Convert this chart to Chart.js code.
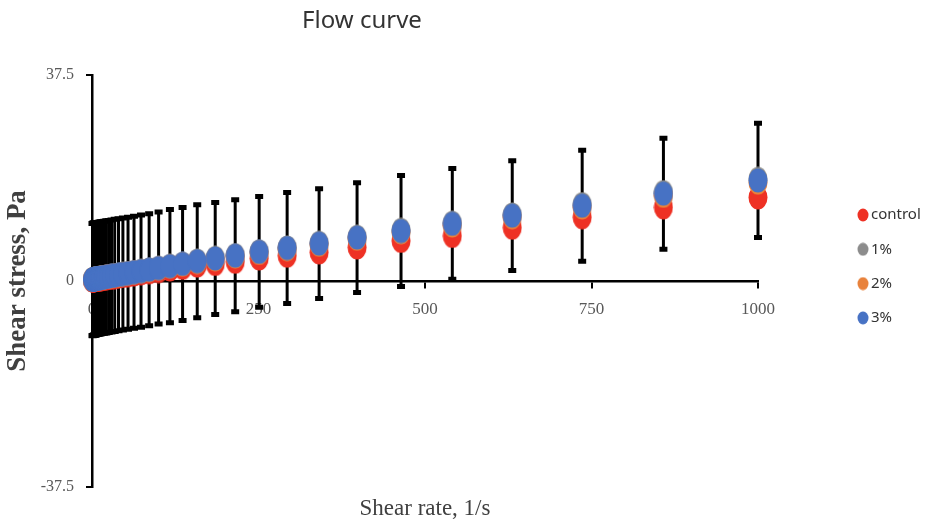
<!DOCTYPE html>
<html>
<head>
<meta charset="utf-8">
<title>Flow curve</title>
<script src="https://cdn.jsdelivr.net/npm/chart.js@4.4.1/dist/chart.umd.min.js"></script>
<style>
  html, body { margin: 0; padding: 0; background: #fff; }
  canvas { display: block; }
</style>
</head>
<body>
<canvas id="flowCurve" width="928" height="529"></canvas>
<script>
// Shear rate steps (1/s) of the flow sweep
const shearRate = [
  1, 1.17, 1.36, 1.58, 1.85, 2.15, 2.51, 2.93, 3.41, 3.98,
  4.64, 5.41, 6.31, 7.36, 8.58, 10, 11.7, 13.6, 15.8, 18.5,
  21.5, 25.1, 29.3, 34.1, 39.8, 46.4, 54.1, 63.1, 73.6, 85.8,
  100, 117, 136, 158, 185, 215, 251, 293, 341, 398,
  464, 541, 631, 736, 858, 1000
];

// Shear stress (Pa) per sample
const control = [
  0.12, 0.13, 0.14, 0.15, 0.16, 0.17, 0.18, 0.19, 0.2, 0.21,
  0.22, 0.23, 0.24, 0.25, 0.26, 0.27, 0.3, 0.34, 0.38, 0.43,
  0.48, 0.55, 0.62, 0.7, 0.8, 0.92, 1.05, 1.2, 1.4, 1.6,
  1.8, 2.1, 2.4, 2.8, 3.1, 3.5, 4.1, 4.6, 5.2, 6.1,
  7.3, 8.2, 9.7, 11.6, 13.4, 15.2
];
const onePercent = [
  0.27, 0.28, 0.29, 0.3, 0.31, 0.32, 0.33, 0.35, 0.36, 0.38,
  0.4, 0.42, 0.44, 0.46, 0.48, 0.51, 0.55, 0.59, 0.64, 0.7,
  0.77, 0.85, 0.94, 1.04, 1.16, 1.3, 1.45, 1.63, 1.84, 2.1,
  2.4, 2.75, 3.15, 3.7, 4.2, 4.7, 5.4, 6.1, 6.95, 8.05,
  9.3, 10.6, 12.1, 14.0, 16.2, 18.6
];
const twoPercent = [
  0.24, 0.25, 0.26, 0.27, 0.28, 0.29, 0.3, 0.31, 0.33, 0.34,
  0.36, 0.38, 0.4, 0.43, 0.46, 0.49, 0.52, 0.56, 0.61, 0.67,
  0.73, 0.8, 0.89, 0.99, 1.09, 1.21, 1.36, 1.53, 1.72, 1.97,
  2.25, 2.6, 2.98, 3.45, 3.95, 4.45, 5.1, 5.8, 6.6, 7.7,
  8.85, 10.1, 11.6, 13.4, 15.5, 17.9
];
const threePercent = [
  0.25, 0.26, 0.27, 0.28, 0.29, 0.3, 0.31, 0.32, 0.34, 0.35,
  0.37, 0.39, 0.41, 0.44, 0.47, 0.5, 0.54, 0.58, 0.63, 0.69,
  0.75, 0.83, 0.92, 1.02, 1.14, 1.27, 1.42, 1.6, 1.8, 2.05,
  2.35, 2.7, 3.1, 3.6, 4.1, 4.6, 5.3, 6.0, 6.8, 7.9,
  9.1, 10.4, 11.9, 13.7, 15.9, 18.3
];
// Standard deviation shown on the 3% series
const threePercentErr = [
  10.2, 10.2, 10.2, 10.2, 10.2, 10.2, 10.2, 10.2, 10.2, 10.2,
  10.2, 10.2, 10.2, 10.2, 10.2, 10.2, 10.2, 10.2, 10.2, 10.2,
  10.2, 10.2, 10.2, 10.2, 10.2, 10.2, 10.2, 10.2, 10.2, 10.2,
  10.2, 10.3, 10.3, 10.3, 10.2, 10.2, 10.1, 10.1, 10.0, 10.0,
  10.1, 10.1, 10.0, 10.1, 10.1, 10.4
];

const seriesNames = ['control', '1%', '2%', '3%'];
const xTicks = [0, 250, 500, 750, 1000];
const yTicks = [-37.5, 0, 37.5];
const chartTitle = 'Flow curve';

const tickGrey = '#595959';

/** Draws an elliptical marker on a small canvas, used as pointStyle */
function makeDot(color, w, h) {
  const c = document.createElement('canvas');
  c.width = w;
  c.height = h;
  const g = c.getContext('2d');
  g.fillStyle = color;
  g.beginPath();
  g.ellipse(w / 2, h / 2, w / 2 - 0.5, h / 2 - 0.5, 0, 0, Math.PI * 2);
  g.fill();
  return c;
}

function series(label, values, color, order, errors) {
  return {
    label: label,
    data: shearRate.map((r, i) => ({x: r, y: values[i]})),
    pointStyle: makeDot(color, 20, 25),
    keyDot: makeDot(color, 12, 14),
    order: order,
    errors: errors,
    clip: false,
    showLine: false
  };
}

/** Vertical error bars with square caps, drawn behind the markers */
const errorBars = {
  id: 'errorBars',
  beforeDatasetsDraw(chart) {
    const {ctx, scales: {x, y}} = chart;
    ctx.save();
    ctx.strokeStyle = '#000';
    chart.data.datasets.forEach(ds => {
      if (!ds.errors) return;
      ds.data.forEach((p, i) => {
        const px = x.getPixelForValue(p.x);
        const top = y.getPixelForValue(p.y + ds.errors[i]);
        const bot = y.getPixelForValue(p.y - ds.errors[i]);
        ctx.lineWidth = 3;
        ctx.beginPath();
        ctx.moveTo(px, top);
        ctx.lineTo(px, bot);
        ctx.stroke();
        // caps
        ctx.lineWidth = 5;
        ctx.beginPath();
        ctx.moveTo(px - 4, top);
        ctx.lineTo(px + 4, top);
        ctx.moveTo(px - 4, bot);
        ctx.lineTo(px + 4, bot);
        ctx.stroke();
      });
    });
    ctx.restore();
  }
};

/** Chart title and the key on the right */
const titleAndKey = {
  id: 'titleAndKey',
  afterDraw(chart) {
    const {ctx, chartArea} = chart;
    ctx.save();
    ctx.fillStyle = '#333';
    ctx.font = '24px "Noto Sans"';
    ctx.textAlign = 'center';
    ctx.textBaseline = 'middle';
    ctx.fillText(chartTitle, 362, 21);

    ctx.font = '15px "Noto Sans"';
    ctx.textAlign = 'left';
    ctx.fillStyle = '#333';
    chart.data.datasets.forEach((ds, i) => {
      const cx = chartArea.right + 105;
      const cy = chartArea.top + 140 + i * 34.3;
      ctx.drawImage(ds.keyDot, cx - 6, cy - 7);
      ctx.fillText(ds.label, cx + 8, cy);
    });
    ctx.restore();
  }
};

const ctx = document.getElementById('flowCurve');
const flowChart = new Chart(ctx, {
  type: 'scatter',
  data: {
    datasets: [
      series(seriesNames[0], control, '#EE3124', 4),
      series(seriesNames[1], onePercent, '#8C8C8C', 3),
      series(seriesNames[2], twoPercent, '#E8823C', 2),
      series(seriesNames[3], threePercent, '#4772C4', 1, threePercentErr)
    ]
  },
  options: {
    responsive: false,
    animation: false,
    events: [],
    layout: {padding: {top: 75, left: 0, right: 0, bottom: 0}},
    plugins: {
      legend: {display: false},
      title: {display: false},
      tooltip: {enabled: false}
    },
    scales: {
      x: {
        type: 'linear',
        position: {y: 0},
        min: 0,
        max: 1000,
        afterBuildTicks: s => { s.ticks = xTicks.map(v => ({value: v})); },
        ticks: {
          callback: v => String(v),
          color: tickGrey,
          padding: 12,
          maxRotation: 0,
          font: {family: 'Liberation Serif', size: 17}
        },
        grid: {drawOnChartArea: false, tickLength: 6, color: '#000', lineWidth: 2},
        border: {color: '#000', width: 2.5}
      },
      y: {
        type: 'linear',
        position: 'left',
        min: -37.5,
        max: 37.5,
        afterBuildTicks: s => { s.ticks = yTicks.map(v => ({value: v})); },
        afterFit: s => { s.width = 92; },
        ticks: {
          callback: v => String(v),
          color: tickGrey,
          padding: 12,
          font: {family: 'Liberation Serif', size: 16}
        },
        grid: {drawOnChartArea: false, tickLength: 6, color: '#000', lineWidth: 2},
        border: {color: '#000', width: 2.5},
        title: {
          display: true,
          text: 'Shear stress, Pa',
          color: '#404040',
          padding: {top: 2, bottom: 0},
          font: {family: 'Liberation Serif', size: 27, weight: 'bold'}
        }
      },
      // bottom strip that only carries the x axis title
      x2: {
        type: 'linear',
        axis: 'x',
        position: 'bottom',
        min: 0,
        max: 1000,
        afterFit: s => { s.height = 42; },
        ticks: {display: false},
        grid: {display: false},
        border: {display: false},
        title: {
          display: true,
          text: 'Shear rate, 1/s',
          color: '#404040',
          padding: {top: 6, bottom: 6},
          font: {family: 'Liberation Serif', size: 23}
        }
      },
      // empty strip on the right, room for the key
      y2: {
        type: 'linear',
        axis: 'y',
        position: 'right',
        afterFit: s => { s.width = 170; },
        ticks: {display: false},
        grid: {display: false},
        border: {display: false}
      }
    }
  },
  plugins: [errorBars, titleAndKey]
});
</script>
</body>
</html>
